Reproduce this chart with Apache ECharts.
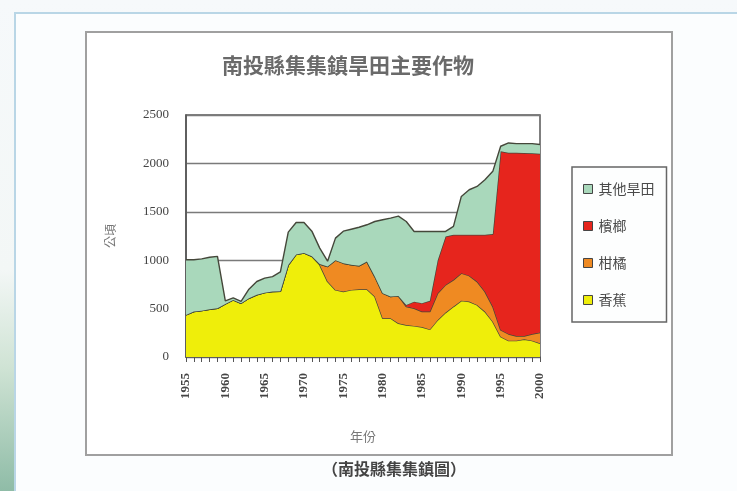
<!DOCTYPE html>
<html>
<head>
<meta charset="utf-8">
<title>南投縣集集鎮旱田主要作物</title>
<script src="https://cdn.jsdelivr.net/npm/echarts@6/dist/echarts.min.js"></script>
<style>
  html, body { margin: 0; padding: 0; background: #f5f8fa; }
  #wrap { position: relative; width: 737px; height: 491px; overflow: hidden;
          background: linear-gradient(to bottom, #f6f9fb 0%, #f3f7f6 55%, #cfe3d4 75%, #8fbca7 100%); }
  #page { position: absolute; left: 14px; top: 12px; right: 0; bottom: 0;
          background: #fbfdfe; border-left: 2px solid #b9d6e6; border-top: 2px solid #b9d6e6; }
  #chart { position: absolute; left: 0; top: 0; width: 737px; height: 491px; }
</style>
</head>
<body>
<div id="wrap">
  <div id="page"></div>
  <div id="chart"></div>
</div>
<script>
// Years on the horizontal axis
const years = [];
for (let y = 1955; y <= 2000; y++) years.push(String(y));

// Planted area per crop (公頃), 1955–2000
const banana = [435, 469, 479, 493, 503, 548, 590, 555, 607, 642,
                665, 676, 680, 950, 1060, 1075, 1040, 952, 779, 693,
                676, 693, 700, 700, 624, 400, 400, 348, 331, 321,
                310, 285, 383, 459, 521, 582, 573, 538, 469, 365,
                210, 169, 169, 183, 169, 141];
const citrus = [0, 0, 0, 0, 0, 0, 0, 0, 0, 0,
                0, 0, 0, 0, 0, 0, 0, 8, 156, 307,
                293, 259, 242, 286, 207, 259, 224, 283, 190, 182,
                160, 184, 276, 286, 276, 284, 267, 241, 207, 156,
                69, 69, 48, 34, 69, 111];
const betel = [0, 0, 0, 0, 0, 0, 0, 0, 0, 0,
               0, 0, 0, 0, 0, 0, 0, 0, 0, 0,
               0, 0, 0, 0, 0, 0, 0, 0, 17, 69,
               86, 111, 341, 500, 465, 396, 422, 483, 586, 749,
               1846, 1872, 1893, 1891, 1867, 1848];
const otherDry = [569, 535, 535, 538, 537, 32, 20, 20, 93, 138,
                  150, 154, 200, 340, 330, 315, 260, 165, 55, 228,
                  331, 368, 398, 380, 569, 759, 811, 824, 862, 725,
                  741, 717, 297, 52, 87, 397, 466, 500, 570, 648,
                  52, 101, 94, 96, 99, 95];

const seriesNames = ['香蕉', '柑橘', '檳榔', '其他旱田'];
const seriesData = [banana, citrus, betel, otherDry];
const seriesColors = ['#efee0a', '#ef8a22', '#e6251d', '#a9d8bb'];
const yTicks = { min: 0, max: 2500, step: 500 };

const chart = echarts.init(document.getElementById('chart'), null, { renderer: 'canvas' });

const option = {
  backgroundColor: 'transparent',
  animation: false,
  title: {
    text: '南投縣集集鎮旱田主要作物',
    left: 217, top: 50,
    textStyle: { fontFamily: 'Noto Sans CJK TC', fontSize: 21, fontWeight: 'bold', color: '#6a6a6a' }
  },
  legend: {
    orient: 'vertical',
    left: 572, top: 167,
    padding: [15, 12, 15, 11],
    itemGap: 23,
    itemWidth: 9, itemHeight: 9,
    icon: 'rect',
    borderColor: '#666', borderWidth: 1.5,
    backgroundColor: '#fdfefe',
    data: ['其他旱田', '檳榔', '柑橘', '香蕉'],
    itemStyle: { borderColor: '#444', borderWidth: 1 },
    textStyle: { fontFamily: 'Noto Sans CJK TC', fontSize: 14, color: '#4a4a4a', padding: [0, 0, 0, 1] }
  },
  grid: {
    left: 186, right: 197, top: 115, bottom: 134,
    show: true, borderColor: '#555', borderWidth: 1.5, backgroundColor: '#ffffff'
  },
  xAxis: {
    type: 'category',
    data: years,
    boundaryGap: false,
    name: '年份',
    nameLocation: 'middle',
    nameGap: 73,
    nameTextStyle: { fontFamily: 'Noto Sans CJK TC', fontSize: 13, color: '#777' },
    axisLine: { lineStyle: { color: '#555', width: 1.5 } },
    axisTick: { interval: 0, length: 5, lineStyle: { color: '#555' } },
    axisLabel: {
      interval: 4, rotate: 90, margin: 16,
      fontFamily: 'Liberation Serif', fontSize: 13, fontWeight: 'bold', color: '#444'
    },
    splitLine: { show: false }
  },
  yAxis: {
    type: 'value',
    min: yTicks.min, max: yTicks.max, interval: yTicks.step,
    name: '公頃',
    nameLocation: 'middle',
    nameGap: 70,
    nameRotate: 90,
    nameTextStyle: { fontFamily: 'Noto Sans CJK TC', fontSize: 12, color: '#777' },
    axisLine: { show: true, lineStyle: { color: '#555', width: 1.5 } },
    axisTick: { show: false },
    axisLabel: {
      margin: 17, fontFamily: 'Liberation Serif', fontSize: 13, color: '#444',
      formatter: (v) => String(v)
    },
    splitLine: { lineStyle: { color: '#7a7a7a', width: 1.3 } }
  },
  series: seriesNames.map((name, i) => ({
    name: name,
    type: 'line',
    stack: 'crops',
    data: seriesData[i],
    symbol: 'none',
    smooth: false,
    lineStyle: { color: '#45473a', width: 1.4 },
    itemStyle: { color: seriesColors[i], borderColor: '#444' },
    areaStyle: { color: seriesColors[i], opacity: 1 },
    z: 2 + i
  })),
  graphic: [
    {
      type: 'rect', silent: true, z: -10,
      shape: { x: 86, y: 32, width: 586, height: 423 },
      style: { fill: '#ffffff', stroke: '#a0a0a0', lineWidth: 2 }
    },
    {
      type: 'text', z: 10,
      left: 322, top: 461,
      style: {
        text: '（南投縣集集鎮圖）',
        font: 'bold 16px "Noto Sans CJK TC"',
        fill: '#444'
      }
    }
  ]
};

chart.setOption(option);
</script>
</body>
</html>
